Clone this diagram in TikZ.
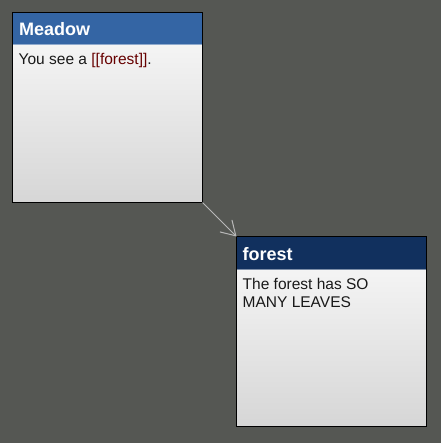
\documentclass[tikz,border=0pt]{standalone}
\usepackage{fontspec}
\setmainfont{Liberation Sans}
\usetikzlibrary{arrows.meta}
\definecolor{bgdark}{HTML}{555753}
\definecolor{hdmeadow}{HTML}{3465A4}
\definecolor{hdforest}{HTML}{11305E}
\definecolor{linkred}{HTML}{660000}
\definecolor{arrowgray}{HTML}{B8B8B8}
\definecolor{bodytop}{HTML}{FAFAFA}
\definecolor{bodybot}{HTML}{D6D6D6}
\begin{document}
\begin{tikzpicture}[x=1pt,y=-1pt,
  passage/.style={draw=black,line width=1pt,minimum width=\S pt,minimum height=\S pt,
    inner sep=0pt,outer sep=0pt,anchor=north west,top color=bodytop,bottom color=bodybot},
  header/.style={minimum width=\S pt-1pt,minimum height=32pt,inner sep=0pt,outer sep=0pt,anchor=north west},
  title/.style={anchor=base west,inner sep=0pt,text=white,font=\fontsize{18}{18}\selectfont\bfseries},
  body/.style={anchor=base west,inner sep=0pt,align=left,text=black!90,font=\fontsize{15.5}{18.4}\selectfont},
  link/.style={arrowgray,line width=1pt,-{Straight Barb[length=14pt,width=17pt]}}]
  % 箱の一辺
  \def\S{190}
  \fill[bgdark] (0,0) rectangle (441,443);
  \useasboundingbox (0,0) rectangle (441,443);
  % Meadow
  \node[passage] (meadow) at (12.5,12.5) {};
  \node[header,fill=hdmeadow] (meadowhd) at ([shift={(0.5,0.5)}]meadow.north west) {};
  \draw[hdmeadow!55!white,line width=1pt] (meadowhd.south west) -- (meadowhd.south east);
  \node[title] (meadowtitle) at ([shift={(6.5,23)}]meadow.north west) {Meadow};
  \node[body] (meadowtext) at ([shift={(6,52.5)}]meadow.north west) {You see a \textcolor{linkred}{[[forest]]}.};
  % forest (baseは最終行)
  \node[passage] (forest) at (236.5,236.5) {};
  \node[header,fill=hdforest] (foresthd) at ([shift={(0.5,0.5)}]forest.north west) {};
  \draw[hdforest!55!white,line width=1pt] (foresthd.south west) -- (foresthd.south east);
  \node[title] (foresttitle) at ([shift={(6,23.5)}]forest.north west) {forest};
  \node[body] (foresttext) at ([shift={(6,71.4)}]forest.north west) {The forest has SO\\MANY LEAVES};
  % リンク
  \draw[link] (meadow.south east) -- (forest.north west);
\end{tikzpicture}
\end{document}
